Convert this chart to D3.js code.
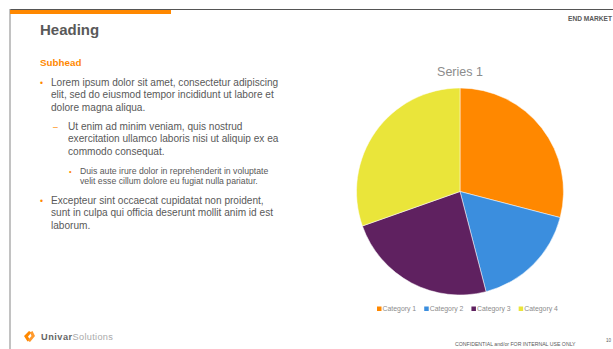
<!DOCTYPE html>
<html lang="en">
<head>
  <meta charset="UTF-8">
  <title>Pie Slide</title>
  <script src="https://d3js.org/d3.v7.min.js"></script>
  <style>
    body { margin: 0; background: #fff; font-family: "Liberation Sans", Arial, sans-serif; }
    svg { display: block; }
  </style>
</head>
<body>
<svg id="slide" width="613" height="349"></svg>
<script>
  const categories = ["Category 1", "Category 2", "Category 3", "Category 4"];
  const seriesValues = [4.3, 2.5, 3.5, 4.5];
  const seriesName = "Series 1";
  const colors = ["#FF8800", "#3B8EDE", "#5F2160", "#EAE53A"];

  const svg = d3.select("#slide");
  const grey = "#595959";

  // frame lines
  svg.append("line").attr("x1", 10).attr("x2", 613).attr("y1", 9.5).attr("y2", 9.5)
    .attr("stroke", "#555").attr("stroke-width", 1.2);
  svg.append("line").attr("x1", 10).attr("x2", 10).attr("y1", 9).attr("y2", 349)
    .attr("stroke", "#999").attr("stroke-width", 1.2);
  svg.append("rect").attr("x", 10).attr("y", 10).attr("width", 161).attr("height", 4)
    .attr("fill", "#FF8800");

  // heading + text
  svg.append("text").attr("x", 40).attr("y", 35).attr("fill", grey)
    .attr("font-size", 15).attr("font-weight", "bold").text("Heading");
  svg.append("text").attr("x", 40).attr("y", 66).attr("fill", "#FF8800")
    .attr("font-size", 9.8).attr("font-weight", "bold").text("Subhead");
  svg.append("text").attr("x", 612).attr("y", 21).attr("text-anchor", "end")
    .attr("fill", grey).attr("font-size", 6.6).attr("font-weight", "bold").text("END MARKET");

  const bullets = [
    { bx: 40, tx: 51, size: 10.1, mark: "•", lines: ["Lorem ipsum dolor sit amet, consectetur adipiscing", "elit, sed do eiusmod tempor incididunt ut labore et", "dolore magna aliqua."], y: 85.5, lh: 12.6 },
    { bx: 53, tx: 68, size: 10.1, mark: "–", lines: ["Ut enim ad minim veniam, quis nostrud", "exercitation ullamco laboris nisi ut aliquip ex ea", "commodo consequat."], y: 129.5, lh: 12.8 },
    { bx: 69, tx: 80, size: 8.7, mark: "•", lines: ["Duis aute irure dolor in reprehenderit in voluptate", "velit esse cillum dolore eu fugiat nulla pariatur."], y: 173.5, lh: 10.2 },
    { bx: 40, tx: 51, size: 10.1, mark: "•", lines: ["Excepteur sint occaecat cupidatat non proident,", "sunt in culpa qui officia deserunt mollit anim id est", "laborum."], y: 203.5, lh: 12.6 }
  ];
  bullets.forEach(b => {
    svg.append("text").attr("x", b.bx).attr("y", b.y).attr("fill", "#FF8800")
      .attr("font-size", b.size * 0.85).text(b.mark);
    b.lines.forEach((l, i) => {
      svg.append("text").attr("x", b.tx).attr("y", b.y + i * b.lh).attr("fill", grey)
        .attr("font-size", b.size).text(l);
    });
  });

  // pie
  const cx = 460, cy = 191.5, r = 103.5;
  svg.append("text").attr("x", cx).attr("y", 76).attr("text-anchor", "middle")
    .attr("fill", "#8c8c8c").attr("font-size", 12.5).text(seriesName);

  const pie = d3.pie().sort(null).value(d => d.value);
  const arc = d3.arc().innerRadius(0).outerRadius(r);
  const data = categories.map((c, i) => ({ name: c, value: seriesValues[i] }));
  const color = d3.scaleOrdinal().domain(categories).range(colors);

  svg.append("g").attr("transform", `translate(${cx},${cy})`)
    .selectAll("path").data(pie(data)).enter().append("path")
    .attr("d", arc).attr("fill", d => color(d.data.name))
    .attr("stroke", "#fff").attr("stroke-width", 0.5);

  // legend
  const legend = svg.append("g").attr("transform", "translate(377,309)");
  let lx = 0;
  categories.forEach(c => {
    const g = legend.append("g").attr("transform", `translate(${lx},0)`);
    g.append("rect").attr("x", 0).attr("y", -2.5).attr("width", 4.5).attr("height", 4.5)
      .attr("fill", color(c));
    const t = g.append("text").attr("x", 5.5).attr("y", 2.4).attr("fill", "#8c8c8c")
      .attr("font-size", 6.9).text(c);
    lx += 5.5 + t.node().getComputedTextLength() + 8;
  });

  // footer
  svg.append("text").attr("x", 455).attr("y", 346).attr("fill", grey)
    .attr("font-size", 5.2).text("CONFIDENTIAL and/or FOR INTERNAL USE ONLY");
  svg.append("text").attr("x", 606).attr("y", 342).attr("fill", grey)
    .attr("font-size", 4.5).text("10");

  // logo
  const logo = svg.append("g").attr("transform", "translate(24,331)");
  logo.append("path").attr("d", "M0,5 L5,0 L7.5,1.5 L4,5.5 L6,9 L3.5,10.5 Z").attr("fill", "#FF8800");
  logo.append("path").attr("d", "M6,1.5 L8.5,0 L11,5 L6,11 L3.5,9.5 L7.5,5 Z").attr("fill", "#FF9A2E");
  const lt = svg.append("text").attr("x", 41).attr("y", 340).attr("font-size", 9.2)
    .attr("letter-spacing", 0.5);
  lt.append("tspan").attr("fill", "#666").attr("font-weight", "bold").text("Univar");
  lt.append("tspan").attr("fill", "#aaa").attr("letter-spacing", 0.3).text("Solutions");
</script>
</body>
</html>
